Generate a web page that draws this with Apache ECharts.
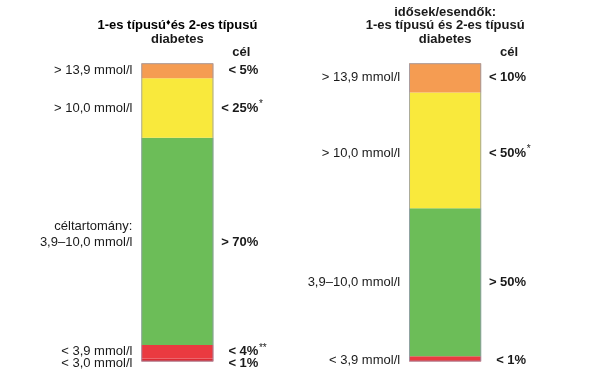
<!DOCTYPE html>
<html>
<head>
<meta charset="utf-8">
<script src="https://cdn.jsdelivr.net/npm/echarts@6/dist/echarts.min.js"></script>
<style>html,body{margin:0;padding:0;background:#fff}#c{width:598px;height:388px}</style>
</head>
<body>
<div id="c"></div>
<script>
// ---- data ----
var categories = ['1-es és 2-es típusú diabetes', 'idősek/esendők'];
var bandNames = ['< 3,0 mmol/l', '3,0–3,9 mmol/l', '3,9–10,0 mmol/l', '10,0–13,9 mmol/l', '> 13,9 mmol/l'];
var veryLow  = [1.0, 0];
var low      = [4.5, 1.8];
var inRange  = [69.5, 49.6];
var high     = [20.0, 38.8];
var veryHigh = [5.0, 9.8];
var bandColors = ['#DC2A34', '#EA3A40', '#6CBD58', '#F9E93C', '#F59C52'];
var sideLabels = [
  ['< 3,0 mmol/l', '< 3,9 mmol/l', '3,9–10,0 mmol/l', '> 10,0 mmol/l', '> 13,9 mmol/l'],
  ['', '< 3,9 mmol/l', '3,9–10,0 mmol/l', '> 10,0 mmol/l', '> 13,9 mmol/l']
];
var goalLabels = [
  ['< 1%', '< 4%', '> 70%', '< 25%', '< 5%'],
  ['', '< 1%', '> 50%', '< 50%', '< 10%']
];
var goalSuffix = [
  ['', '**', '', '*', ''],
  ['', '', '', '*', '']
];
var titles = [
  ['1-es típusú♦és 2-es típusú', 'diabetes'],
  ['idősek/esendők:', '1-es típusú és 2-es típusú', 'diabetes']
];
var goalHeader = 'cél';
var series = [veryLow, low, inRange, high, veryHigh];

var FONT = '"Liberation Sans", Arial, sans-serif';
var chart = echarts.init(document.getElementById('c'));
var opt = {
  animation: false,
  grid: {left: 43.5, right: 19, top: 63.3, bottom: 26.5},
  xAxis: {type: 'category', data: categories, show: false},
  yAxis: {type: 'value', min: 0, max: 100, show: false},
  series: series.map(function (d, i) {
    return {type: 'bar', name: bandNames[i], stack: 'g', data: d, barWidth: 72,
      itemStyle: {color: bandColors[i]}};
  }).concat([{
    type: 'bar', name: 'outline', data: [100, 100], barWidth: 72, barGap: '-100%', z: 5,
    itemStyle: {color: 'rgba(0,0,0,0)', borderColor: '#9599b0', borderWidth: 0.8}, silent: true
  }])
};
chart.setOption(opt);

var g = [];
function txt(x, y, text, align, bold, size) {
  g.push({type: 'text', x: x, y: y, style: {text: text, x: 0, y: 0, textAlign: align, textVerticalAlign: 'middle',
    fill: '#1a1a1a', font: (bold ? 'bold ' : '') + (size || 13) + 'px ' + FONT}});
}
var half = 36;
for (var c = 0; c < categories.length; c++) {
  var cx = chart.convertToPixel({gridIndex: 0}, [c, 0])[0];
  var cum = 0;
  for (var b = 0; b < series.length; b++) {
    var v = series[b][c];
    var mid = cum + v / 2;
    cum += v;
    var y = chart.convertToPixel({gridIndex: 0}, [c, mid])[1];
    if (c === 0 && b === 0) y += 3;
    if (c === 0 && b === 2) y += 1;
    if (c === 1 && b === 1) y += 1.5;
    if (c === 1 && b === 3) y += 3;
    if (sideLabels[c][b]) {
      txt(cx - half - 9, y, sideLabels[c][b], 'right', false, 13);
      if (c === 0 && b === 2) txt(cx - half - 9, y - 16, 'céltartomány:', 'right', false, 13);
    }
    if (goalLabels[c][b]) {
      txt(cx + half + 45, y, goalLabels[c][b], 'right', true, 13);
      if (goalSuffix[c][b]) {
        g.push({type: 'text', x: cx + half + 45.5, y: y - 4, style: {text: goalSuffix[c][b], textAlign: 'left',
          textVerticalAlign: 'middle', fill: '#1a1a1a', font: '10px ' + FONT}});
      }
    }
  }
  txt(cx + half + 28, 52, goalHeader, 'center', true, 13);
  var t = titles[c];
  var ty = 39 - (t.length - 1) * 13.5;
  for (var k = 0; k < t.length; k++) {
    var line = t[k];
    if (line.indexOf('♦') >= 0) {
      var parts = line.split('♦');
      g.push({type: 'text', x: cx, y: ty + k * 13.5, style: {
        text: '{a|' + parts[0] + '}{d|♦}{a|' + parts[1] + '}', x: 0, y: 0, textAlign: 'center', textVerticalAlign: 'middle',
        rich: {a: {fontSize: 13, fontWeight: 'bold', fontFamily: FONT, color: '#1a1a1a'},
               d: {fontSize: 9, fontFamily: FONT, color: '#1a1a1a', verticalAlign: 'top', padding: [0, 0, 6, 0]}}}});
    } else {
      txt(cx, ty + k * 13.5, line, 'center', true, 13);
    }
  }
}
chart.setOption({graphic: g});
</script>
</body>
</html>
